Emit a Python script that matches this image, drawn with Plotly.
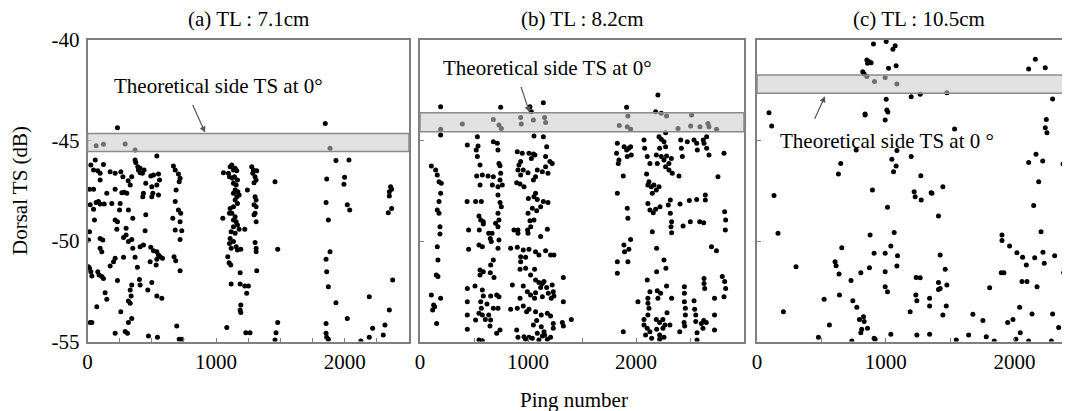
import plotly.graph_objects as go

# ---------------- data (ping number, dorsal TS dB) ----------------
a_x = [233, 67, 124, 293, 370, 1849, 1886, 539, 60, 124, 370, 375, 391, 396, 409, 26, 47, 80, 98, 176, 215, 259, 275, 344, 409, 427, 440, 492, 513, 552, 560, 98, 316, 332, 453, 500, 539, 16, 47, 215, 267, 285, 306, 435, 508, 552, 430, 500, 150, 189, 85, 98, 67, 130, 21, 254, 47, 249, 318, 453, 54, 352, 215, 233, 16, 228, 300, 300, 448, 98, 119, 280, 344, 8, 98, 111, 318, 409, 435, 352, 492, 513, 539, 552, 565, 539, 583, 215, 202, 280, 370, 176, 388, 487, 534, 8, 16, 26, 34, 80, 90, 111, 124, 233, 404, 500, 409, 344, 332, 469, 137, 150, 339, 318, 332, 539, 578, 72, 259, 344, 318, 21, 34, 215, 293, 311, 474, 544,
       668, 682, 707, 720, 713, 689, 682, 707, 725, 663, 720, 682, 733, 720, 673, 686, 720, 694, 713, 733,
       1052, 1057, 1096, 1109, 1122, 1135, 1148, 1161, 1104, 1127, 1143, 1166, 1135, 1156, 1148, 1169, 1135, 1161, 1179, 1148, 1166, 1135, 1109, 1122, 1148, 1104, 1135, 1156, 1166, 1135, 1179, 1223, 1117, 1148, 1109, 1135, 1104, 1117, 1156, 1166, 1192, 1091, 1101, 1114, 1187, 1117, 1187, 1223, 1251, 1238, 1192, 1187, 1192, 1083, 1231, 1264,
       1277, 1290, 1316, 1285, 1303, 1311, 1295, 1243, 1303, 1311, 1295, 1311, 1303, 1295, 1311, 1303, 1311, 1311, 1316,
       1458, 1479, 1479, 1466, 1458,
       1860, 1855, 1873, 1886, 1855, 1860, 1873, 1855, 1855, 1860, 1873, 1932, 1932, 1999, 1994, 2033, 2020, 2039, 2020, 2126, 2191, 2191, 2217, 2300, 2313, 2347, 2339, 2347, 2357, 2365, 2347, 2365, 2373]
a_y = [-44.36, -45.26, -45.19, -45.17, -45.47, -44.16, -45.39, -45.77, -45.97, -46.19, -45.97, -46.10, -46.30, -46.47, -46.38, -46.22, -46.47, -46.50, -46.63, -46.55, -46.63, -46.55, -46.80, -46.80, -46.60, -46.63, -46.47, -46.77, -46.72, -46.67, -46.97, -46.97, -47.00, -47.21, -47.13, -47.30, -47.21, -47.43, -47.43, -47.43, -47.60, -47.57, -47.63, -47.63, -47.63, -47.71, -47.80, -47.80, -47.63, -48.13, -48.04, -48.16, -48.09, -48.16, -48.20, -48.13, -48.42, -48.46, -48.46, -48.70, -48.96, -48.87, -48.96, -49.04, -49.54, -49.42, -49.37, -49.70, -49.49, -49.87, -49.95, -49.82, -49.92, -49.95, -50.36, -50.53, -50.03, -50.28, -50.20, -50.36, -50.31, -50.48, -50.53, -50.70, -50.78, -50.91, -50.86, -50.86, -51.03, -50.81, -50.81, -51.24, -51.31, -51.03, -51.19, -51.28, -51.36, -51.53, -51.74, -51.53, -51.69, -51.77, -51.86, -51.97, -51.91, -52.07, -52.19, -52.19, -52.44, -52.44, -52.57, -52.90, -52.74, -52.99, -53.10, -52.74, -52.85, -53.27, -53.52, -53.85, -54.06, -54.06, -54.06, -54.59, -54.50, -54.59, -54.73, -54.79,
       -46.27, -46.47, -46.67, -46.88, -47.05, -47.46, -48.04, -48.46, -48.62, -48.87, -49.04, -49.45, -49.49, -49.92, -50.78, -50.98, -51.48, -54.23, -54.89, -54.89,
       -48.87, -46.60, -46.63, -46.30, -46.22, -46.47, -46.38, -46.50, -46.80, -46.88, -46.80, -46.97, -47.13, -47.21, -47.46, -47.55, -47.63, -47.80, -47.71, -47.96, -48.13, -48.29, -48.38, -48.62, -48.79, -48.62, -48.96, -49.04, -49.20, -49.29, -49.42, -49.42, -49.54, -49.62, -49.87, -50.03, -50.12, -50.36, -50.28, -50.45, -50.41, -50.78, -51.08, -51.19, -51.58, -52.14, -52.14, -52.24, -52.24, -52.60, -53.18, -53.43, -53.56, -54.30, -54.56, -54.56,
       -46.30, -46.47, -46.50, -46.63, -46.80, -46.97, -47.10, -47.46, -47.80, -47.96, -48.20, -48.29, -48.62, -48.70, -49.04, -50.08, -50.36, -50.53, -51.48,
       -47.05, -50.41, -54.06, -54.56, -54.93,
       -46.92, -48.09, -48.96, -50.53, -50.91, -51.53, -52.27, -54.10, -54.59, -54.79, -54.89, -46.00, -53.07, -46.83, -47.18, -45.97, -48.20, -48.46, -53.85, -54.98, -52.77, -54.79, -54.34, -54.68, -54.18, -53.43, -48.59, -47.55, -47.30, -47.43, -47.76, -48.38, -51.94]

b_x = [191, 191, 191, 392, 679, 747, 731, 753, 932, 938, 1018, 1031, 1050, 1142, 1154, 1163, 1055, 1142, 1913, 1925, 1845, 1919, 1950, 2203, 2182, 2234, 2283, 2515, 2389, 2506, 2592, 2666, 2676, 2746, 2274,
       105, 145, 160, 176, 197, 191, 176, 160, 176, 185, 185, 160, 166, 151, 166, 105, 126, 117, 136, 191, 154,
       438, 531, 537, 521, 531, 556, 679, 716, 722, 731, 741, 747, 741, 525, 577, 630, 679, 556, 670, 722, 762, 436, 515, 568, 722, 741, 753, 546, 562, 586, 549, 586, 722, 731, 700, 722, 636, 667, 651, 660, 731, 722, 546, 577, 450, 450, 679, 654, 556, 586, 651, 556, 685, 438, 509, 438, 438, 438, 577, 586, 654, 710, 731, 562, 620, 679, 722, 546, 577, 636, 515, 605, 654, 648, 710, 741, 546, 577, 568,
       901, 932, 916, 947, 1009, 1050, 1031, 1064, 1173, 1163, 1203, 1163, 1224, 907, 932, 956, 1000, 1086, 1070, 1050, 1133, 1185, 895, 926, 963, 1070, 1055, 1003, 1086, 1142, 1185, 1117, 1040, 1080, 1000, 1018, 1055, 996, 1025, 1000, 1179, 1117, 870, 907, 907, 839, 901, 956, 1009, 1070, 1101, 1163, 1209, 1240, 932, 978, 932, 978, 1061, 926, 1024, 1070, 1101, 1133, 1148, 1173, 1224, 1234, 1117, 1070, 1061, 855, 956, 1024, 994, 926, 1133, 1188, 1215, 1240, 1327, 1327, 839, 901, 956, 987, 1009, 1070, 1123, 1080, 1179, 1209, 1050, 1123, 1234, 1234, 1318, 1327, 1401, 895, 963, 907, 978, 1009, 1040, 1086, 1133, 1154, 1179, 1209, 1101, 1148,
       1827, 1820, 1842, 1836, 1890, 1913, 1934, 1956, 1919, 1950, 1882, 1827, 1919, 1925, 1950, 1888, 1934, 1894, 1827, 1925, 1827, 1882, 2074, 2080, 2104, 2213, 2234, 2259, 2274, 2219, 2188, 2234, 2197, 2283, 2305, 2327, 2259, 2274, 2305, 2336, 2414, 2420, 2429, 2475, 2537, 2562, 2623, 2654, 2630, 2654, 2568, 2676, 2815, 2129, 2098, 2120, 2141, 2110, 2166, 2213, 2188, 2151, 2398, 2759, 2318, 2299, 2408, 2494, 2562, 2642, 2642, 2110, 2129, 2182, 2222, 2160, 2318, 2330, 2324, 2330, 2436, 2503, 2590, 2627, 2821, 2830, 2827, 2151, 2191, 2259, 2699, 2745, 2277, 2191, 2104, 2283, 2197, 2228, 2203, 2129, 2110, 2018, 2110, 2120, 2330, 2448, 2448, 2448, 2457, 2457, 2537, 2543, 2553, 2630, 2630, 2636, 2799, 2821, 2830, 2815, 2727, 2110, 2074, 2074, 2104, 2129, 2089, 2145, 2219, 2259, 2188, 2219, 2249, 2268, 2249, 2314, 2287, 2191, 2219, 2405, 2445, 2451, 2565, 2565, 2605, 2627, 2651, 2620, 2727, 2727, 2553]
b_y = [-43.32, -44.44, -44.73, -44.18, -43.95, -43.35, -44.23, -44.40, -43.85, -44.18, -43.32, -43.57, -43.98, -43.12, -43.85, -44.11, -44.78, -44.81, -43.35, -43.78, -44.25, -44.31, -44.44, -42.74, -43.57, -43.65, -43.78, -43.73, -44.40, -44.28, -44.31, -44.15, -44.31, -44.44, -44.61,
       -46.27, -46.47, -46.72, -47.05, -47.13, -47.63, -48.04, -48.46, -48.62, -49.29, -49.65, -50.28, -50.95, -51.69, -51.77, -52.69, -53.18, -53.43, -53.27, -52.85, -54.10,
       -45.22, -44.81, -45.27, -45.47, -45.80, -46.22, -45.06, -45.14, -45.47, -46.14, -46.25, -46.63, -46.97, -46.77, -46.72, -46.77, -46.80, -47.21, -47.21, -47.30, -47.21, -48.04, -48.04, -48.04, -47.71, -48.09, -48.29, -48.76, -48.96, -49.15, -49.45, -49.04, -48.62, -48.96, -49.12, -49.29, -49.62, -49.62, -49.87, -50.03, -49.95, -50.36, -50.20, -50.28, -49.45, -50.41, -50.95, -51.19, -51.44, -51.53, -51.58, -51.69, -51.81, -52.36, -52.24, -53.02, -53.68, -54.39, -52.44, -52.74, -52.74, -52.69, -52.77, -53.02, -53.13, -53.35, -53.35, -53.60, -53.68, -53.68, -53.93, -53.90, -53.93, -54.23, -54.59, -54.43, -54.93, -54.96, -53.35,
       -45.56, -46.05, -46.22, -45.64, -45.64, -45.67, -45.89, -45.72, -45.31, -45.80, -46.05, -46.30, -46.14, -46.47, -46.72, -46.47, -46.60, -46.47, -46.80, -46.97, -46.55, -46.63, -47.10, -47.16, -47.30, -47.63, -47.80, -47.88, -47.93, -48.04, -48.09, -48.29, -48.37, -48.49, -48.62, -48.99, -48.96, -49.45, -49.29, -49.62, -49.42, -49.78, -49.45, -49.45, -49.62, -50.36, -50.31, -50.45, -50.41, -50.53, -50.70, -50.48, -50.70, -50.70, -50.78, -50.81, -51.03, -51.36, -51.41, -51.41, -51.69, -51.94, -52.07, -52.11, -52.02, -52.31, -52.19, -52.52, -52.31, -52.57, -52.85, -52.19, -52.24, -52.69, -52.52, -52.85, -52.77, -52.60, -52.85, -52.74, -51.81, -53.02, -53.40, -53.35, -53.23, -53.52, -53.40, -53.52, -53.68, -53.96, -53.60, -53.73, -54.18, -54.26, -54.10, -54.34, -54.06, -54.23, -53.90, -54.43, -54.76, -54.79, -54.89, -54.79, -54.84, -54.59, -54.73, -54.68, -54.89, -54.79, -54.93, -54.51,
       -45.14, -45.64, -45.97, -46.14, -45.31, -45.47, -45.39, -45.72, -45.80, -45.31, -46.77, -47.63, -48.37, -48.87, -49.92, -50.20, -50.41, -50.53, -51.03, -51.03, -51.61, -54.51, -44.98, -45.39, -45.80, -44.81, -44.94, -45.06, -45.31, -45.39, -45.72, -45.80, -46.14, -45.77, -46.14, -45.89, -45.97, -46.30, -46.47, -46.63, -44.98, -45.39, -45.80, -45.06, -44.98, -45.14, -44.98, -44.81, -45.14, -45.39, -45.47, -45.72, -45.64, -46.14, -46.67, -47.05, -47.30, -47.21, -47.21, -47.30, -47.46, -47.63, -46.77, -46.80, -47.96, -48.21, -48.16, -47.99, -47.93, -47.71, -47.96, -48.13, -48.46, -48.42, -48.29, -48.59, -48.62, -49.04, -49.29, -49.59, -49.25, -49.04, -49.04, -49.09, -48.54, -48.96, -49.45, -49.54, -50.36, -50.95, -50.28, -50.48, -51.36, -51.53, -51.94, -52.24, -52.47, -52.60, -52.85, -52.52, -52.85, -53.02, -53.10, -53.35, -52.85, -52.27, -52.60, -53.02, -53.35, -53.68, -52.97, -53.40, -53.68, -51.86, -52.11, -52.36, -51.77, -52.02, -52.36, -52.77, -52.85, -53.68, -53.90, -54.18, -54.34, -54.51, -54.68, -54.84, -54.89, -54.79, -53.90, -54.06, -53.90, -54.18, -54.34, -54.18, -53.57, -54.39, -54.68, -54.51, -54.06, -54.23, -54.56, -54.93, -54.10, -53.96, -54.06, -54.34, -53.68, -54.43, -54.01]

c_x = [904, 1003, 1073, 1055, 853, 871, 886, 858, 1021, 1080, 821, 853, 912, 995, 1086, 832, 2161, 2109, 2238, 2295, 1197, 1267, 1474, 1003, 1008, 1016, 839, 839, 995, 93, 114, 2246, 2238, 2251, 1534, 770, 1086, 1197, 1080, 1047, 1060, 650, 632, 2166, 2109, 2218, 2376, 2187, 2148, 1272, 1443, 1220, 1228, 1275, 1352, 1358, 896, 1409, 1013, 132, 163, 1065, 878, 1902, 1902, 658, 1039, 909, 995, 1091, 1961, 2018, 2062, 2091, 2156, 2205, 2220, 2230, 2311, 2381, 2415, 606, 614, 303, 637, 873, 806, 730, 1086, 995, 995, 1013, 1236, 1267, 1422, 1461, 1409, 1422, 1409, 1474, 1896, 1917, 2057, 2096, 2174, 1806, 640, 521, 744, 775, 1233, 1241, 1340, 1340, 1469, 1189, 1443, 205, 2039, 2135, 2295, 795, 827, 832, 562, 813, 806, 858, 1676, 1754, 1946, 1987, 2342, 2044, 477, 909, 917, 1039, 1241, 1340, 1643, 1780, 736, 1547, 1842, 2010, 2109, 2285]
c_y = [-40.20, -40.08, -40.28, -40.46, -41.00, -41.08, -41.13, -41.16, -41.41, -41.28, -41.58, -41.82, -42.07, -41.87, -42.19, -41.69, -40.96, -41.44, -41.38, -42.93, -42.82, -42.70, -42.62, -42.95, -43.48, -43.58, -43.68, -43.73, -43.98, -43.62, -44.28, -43.95, -44.36, -44.61, -44.43, -45.47, -45.50, -45.80, -46.27, -45.93, -46.55, -46.14, -46.67, -45.69, -46.10, -46.02, -46.17, -47.05, -48.24, -46.75, -47.30, -47.55, -47.80, -47.96, -47.60, -47.63, -47.46, -48.76, -48.32, -47.74, -49.62, -49.58, -49.70, -49.70, -49.98, -50.33, -50.25, -50.61, -50.61, -50.74, -50.25, -50.58, -50.81, -51.19, -50.83, -49.54, -50.56, -51.11, -50.73, -51.58, -52.02, -51.03, -51.23, -51.28, -51.64, -51.33, -51.58, -51.97, -51.24, -51.53, -52.27, -52.52, -51.81, -51.83, -50.70, -51.41, -52.07, -52.36, -52.41, -52.19, -51.58, -51.58, -52.02, -52.02, -52.27, -52.32, -52.69, -52.90, -52.97, -53.30, -52.69, -52.97, -52.85, -53.23, -53.23, -53.52, -53.68, -53.52, -53.30, -53.63, -53.63, -53.90, -53.77, -54.01, -54.18, -54.39, -54.56, -54.34, -53.65, -53.96, -54.06, -53.90, -54.30, -54.56, -54.79, -54.84, -54.89, -54.64, -54.68, -54.64, -54.68, -54.76, -54.98, -54.93, -54.98, -54.89, -54.98, -54.98]

panel_titles = ["(a) TL : 7.1cm", "(b) TL : 8.2cm", "(c) TL : 10.5cm"]
band_lo = [-45.55, -44.56, -42.65]   # theoretical side TS band (dB)
band_hi = [-44.65, -43.62, -41.74]
x_ranges = [[0, 2500], [0, 3000], [0, 2430]]
x_tickvals = [list(range(0, 2501, 250)), list(range(0, 3001, 500)), list(range(0, 2501, 500))]
y_tickvals = [-55, -50, -45, -40]
y_ticktext = ["-55", "-50", "-45", "-40"]
annot_text = ["Theoretical side TS at 0°", "Theoretical side TS at 0°", "Theoretical side TS at 0 °"]

# ---------------- figure ----------------
OFF = 8                      # page body margin offset
W, H = 1070 - OFF, 411 - OFF
FONT = "'Liberation Serif', 'Times New Roman', Times, 'DejaVu Serif', serif"
AX = "#7f7f7f"

def px_x(p):
    return (p - OFF) / W

def px_y(p):
    return 1 - (p - OFF) / H

x_domains = [[px_x(87.5), px_x(409)], [px_x(420), px_x(744)], [px_x(757), 1.0]]
y_domain = [px_y(341.5), px_y(40)]

fig = go.Figure()
for i, (xs, ys) in enumerate([(a_x, a_y), (b_x, b_y), (c_x, c_y)]):
    sfx = "" if i == 0 else str(i + 1)
    fig.add_trace(go.Scatter(x=xs, y=ys, mode="markers",
                             marker=dict(size=5, color="black"),
                             xaxis="x" + sfx, yaxis="y" + sfx, showlegend=False,
                             hoverinfo="skip"))

layout = dict(width=W, height=H, margin=dict(l=0, r=0, t=0, b=0, autoexpand=False),
              paper_bgcolor="white", plot_bgcolor="white",
              font=dict(family=FONT, size=21, color="black"), showlegend=False)

for i in range(3):
    sfx = "" if i == 0 else str(i + 1)
    ticktext = [str(v) if v in (0, 1000, 2000) else "" for v in x_tickvals[i]]
    layout["xaxis" + sfx] = dict(domain=x_domains[i], range=x_ranges[i], anchor="y" + sfx,
                                 automargin=False,
                                 showline=True, linecolor=AX, linewidth=1.6, mirror=True,
                                 ticks="inside", ticklen=4, tickcolor=AX, tickwidth=1,
                                 tickmode="array", tickvals=x_tickvals[i], ticktext=ticktext,
                                 showgrid=False, zeroline=False,
                                 tickfont=dict(family=FONT, size=21, color="black"))
    layout["yaxis" + sfx] = dict(domain=y_domain, range=[-55, -40], anchor="x" + sfx,
                                 automargin=False,
                                 showline=True, linecolor=AX, linewidth=1.6,
                                 mirror=(True if i < 2 else False),
                                 ticks="inside", ticklen=4, tickcolor=AX, tickwidth=1,
                                 tickmode="array", tickvals=y_tickvals, ticktext=y_ticktext,
                                 showticklabels=(i == 0), ticklabelstandoff=2,
                                 showgrid=False, zeroline=False,
                                 tickfont=dict(family=FONT, size=21, color="black"))

shapes = []
for i in range(3):
    sfx = "" if i == 0 else str(i + 1)
    shapes.append(dict(type="rect", xref="x" + sfx + " domain", yref="y" + sfx,
                       x0=0, x1=1, y0=band_lo[i], y1=band_hi[i], layer="above",
                       fillcolor="rgba(200,200,200,0.55)",
                       line=dict(color="#8a8a8a", width=1.5)))
layout["shapes"] = shapes

annotations = []
for i in range(3):
    cx = (x_domains[i][0] + (x_domains[i][1] if i < 2 else px_x(1080))) / 2
    annotations.append(dict(xref="paper", yref="paper", x=cx, y=px_y(19), text=panel_titles[i],
                            showarrow=False, xanchor="center", yanchor="middle",
                            font=dict(family=FONT, size=21)))
annotations.append(dict(xref="paper", yref="paper", x=px_x(20), y=px_y(191), text="Dorsal TS (dB)",
                        textangle=-90, showarrow=False, xanchor="center", yanchor="middle",
                        font=dict(family=FONT, size=21)))
annotations.append(dict(xref="paper", yref="paper", x=px_x(574), y=px_y(400), text="Ping number",
                        showarrow=False, xanchor="center", yanchor="middle",
                        font=dict(family=FONT, size=21)))
text_pos = [(1015, -42.29), (1180, -41.39), (1006, -45.02)]
arrow_head = [(914, -44.60), (1014, -43.60), (528, -42.80)]
arrow_tail = [(-13, -29), (-9, -27), (-11, 24)]
for i in range(3):
    sfx = "" if i == 0 else str(i + 1)
    annotations.append(dict(xref="x" + sfx, yref="y" + sfx, x=text_pos[i][0], y=text_pos[i][1],
                            text=annot_text[i], showarrow=False, xanchor="center", yanchor="middle",
                            font=dict(family=FONT, size=21)))
    annotations.append(dict(xref="x" + sfx, yref="y" + sfx, x=arrow_head[i][0], y=arrow_head[i][1],
                            text="", showarrow=True, ax=arrow_tail[i][0], ay=arrow_tail[i][1],
                            arrowhead=2, arrowsize=1, arrowwidth=1.2, arrowcolor="#555555"))
layout["annotations"] = annotations

fig.update_layout(**layout)
fig.write_html("out.html")
